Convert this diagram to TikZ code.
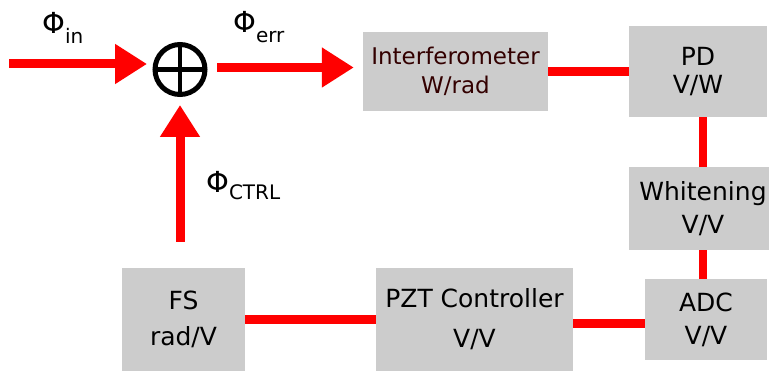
\documentclass[tikz,border=0pt]{standalone}
\usepackage{fontspec}
\setmainfont{DejaVu Sans}
\usetikzlibrary{positioning, arrows.meta}

\definecolor{boxgray}{HTML}{CCCCCC}
\definecolor{sigred}{HTML}{FF0000}
\definecolor{ifotext}{HTML}{330000}

\begin{document}
\begin{tikzpicture}[
    x=1pt, y=-1pt,
    block/.style={fill=boxgray, inner sep=0pt, align=center, font=\fontsize{25}{33}\selectfont},
    wire/.style={color=sigred, line width=8.5pt},
    signal/.style={color=sigred, line width=9pt, -{Triangle[length=32pt, width=38pt]}},
    phase/.style={anchor=base west, inner sep=0pt, font=\fontsize{29}{29}\selectfont}
]
\useasboundingbox (0,0) rectangle (769,371);

% Nodes
\node[circle, draw, line width=5pt, minimum size=50pt, inner sep=0pt, outer sep=0pt] (sum) at (180,69.5) {};
\draw[line width=4.5pt] (sum.north) -- (sum.south) (sum.west) -- (sum.east);

\node[block, minimum width=185pt, minimum height=79pt, text=ifotext,
      font=\fontsize{23}{29}\selectfont] (ifo) at (455.5,71.5) {Interferometer\\W/rad};

\node[block, minimum width=138pt, minimum height=91pt,
      font=\fontsize{25}{28}\selectfont] (pd) at (698,71.5) {PD\\V/W};

\node[block, minimum width=148pt, minimum height=83pt] (white) at (703,208.5) {Whitening\\V/V};

\node[block, minimum width=122pt, minimum height=81pt] (adc) at (706,319.5) {ADC\\V/V};

\node[block, minimum width=197pt, minimum height=103pt,
      font=\fontsize{25}{40}\selectfont] (pzt) at (474.5,319.5) {PZT Controller\\V/V};

\node[block, minimum width=123pt, minimum height=103pt,
      font=\fontsize{25}{36}\selectfont] (fs) at (183.5,319.5) {FS\\rad/V};

\coordinate (in) at (9,64);
\coordinate (err) at (217,67.5);

% Labels
\node[phase] (phiin) at (42,34) {Φ\raisebox{-10pt}{\fontsize{20}{20}\selectfont in}};
\node[phase] (phierr) at (233,33) {Φ\raisebox{-10pt}{\fontsize{20}{20}\selectfont err}};
\node[phase] (phictrl) at (206,193) {Φ\raisebox{-7pt}{\fontsize{20}{20}\selectfont CTRL}};

% Arrows
\draw[signal, shorten >=8pt] (in) -- (in -| sum.west);

\draw[signal, shorten >=9pt] (err) -- (err -| ifo.west);

\draw[signal, shorten <=26pt, shorten >=10.5pt] (fs.north -| sum) -- (sum.south);

\draw[wire] (ifo) -- (pd);

\draw[wire] (white.north |- pd.south) -- (white.north);

\draw[wire] (white.south) -- (white.south |- adc.north);

\draw[wire] ([yshift=-4pt]adc.west) -- ([yshift=-4pt]adc.west -| pzt.east);

\draw[wire] (pzt) -- (fs);

\end{tikzpicture}
\end{document}
